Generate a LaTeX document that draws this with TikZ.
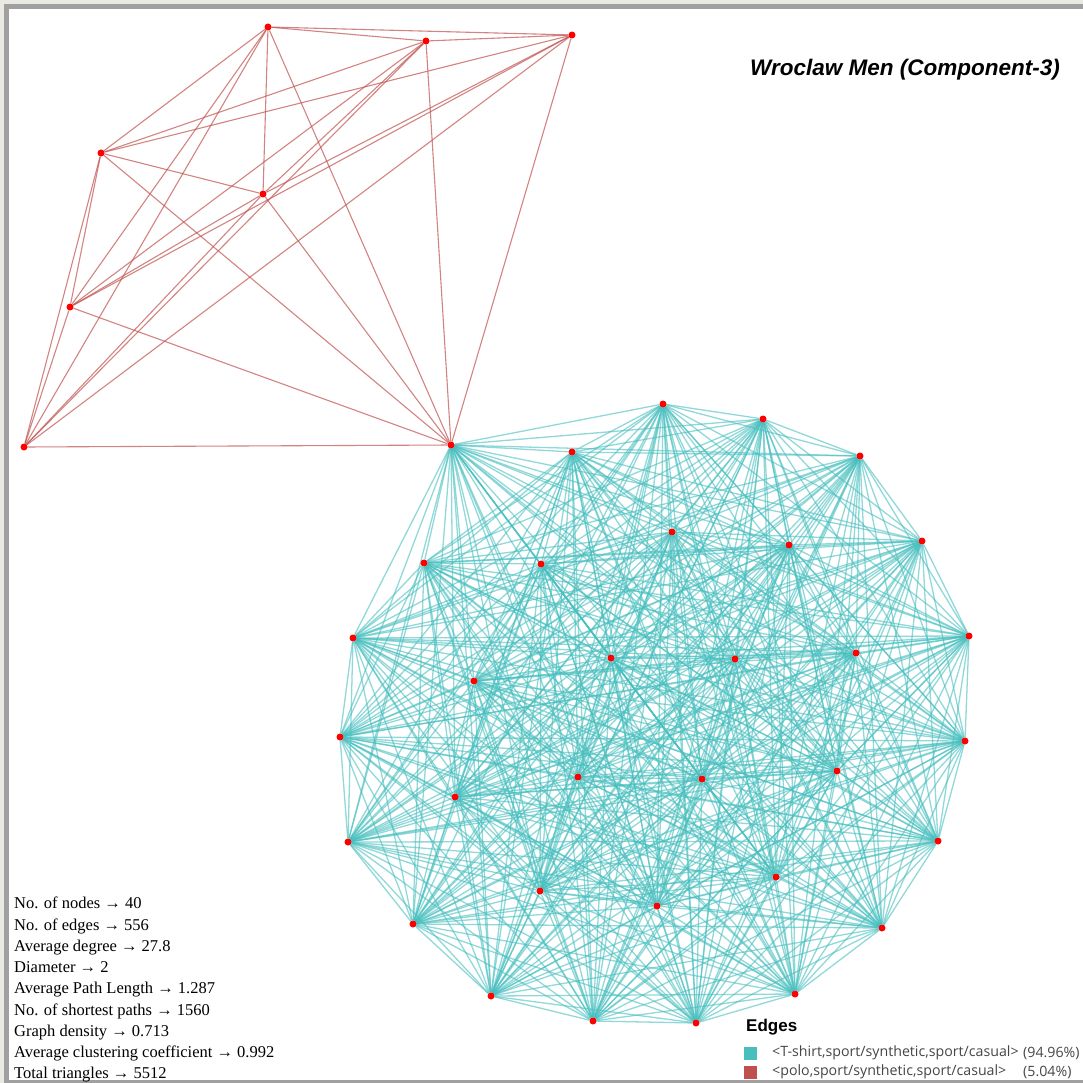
\documentclass[tikz,border=0pt]{standalone}
\usepackage{fontspec}
\setmainfont{Liberation Serif}
\newfontfamily\arialf{Liberation Sans}
\newfontfamily\legf{Open Sans}
\definecolor{tealE}{RGB}{72,191,191}
\definecolor{redE}{RGB}{192,80,77}
\definecolor{frameg}{RGB}{160,160,160}
\definecolor{beigebg}{RGB}{235,233,228}
\definecolor{legtext}{RGB}{70,70,70}
\pgfdeclarelayer{background}
\pgfsetlayers{background,main}
\begin{document}
\begin{tikzpicture}[x=1pt,y=-1pt,
  dot/.style={circle,fill=red,inner sep=0pt,minimum size=7pt},
  cedge/.style={draw=tealE,line width=1.3pt,draw opacity=0.6},
  redge/.style={draw=redE,line width=1.1pt,draw opacity=0.7},
  stat/.style={font=\fontsize{16.5}{21.25}\selectfont,align=left,inner sep=0pt,anchor=north west},
  legitem/.style={font=\legf\fontsize{14.2}{16}\selectfont,text=legtext,inner sep=0pt},
  legsq/.style={minimum size=13pt,inner sep=0pt}]
\useasboundingbox (0,0) rectangle (1083,1083);
% red component nodes
\node[dot] (h) at (451,445) {};
\node[dot] (ra) at (268,27) {};
\node[dot] (rb) at (426,41) {};
\node[dot] (rc) at (572,35) {};
\node[dot] (rd) at (101,153) {};
\node[dot] (re) at (263,194) {};
\node[dot] (rf) at (70,307) {};
\node[dot] (rg) at (24,447) {};
% cyan component, outer ring
\node[dot] (o1) at (663,404) {};
\node[dot] (o2) at (763,419) {};
\node[dot] (o3) at (860,456) {};
\node[dot] (o4) at (922,541) {};
\node[dot] (o5) at (969,636) {};
\node[dot] (o6) at (965,741) {};
\node[dot] (o7) at (938,841) {};
\node[dot] (o8) at (882,928) {};
\node[dot] (o9) at (795,994) {};
\node[dot] (o10) at (696,1023) {};
\node[dot] (o11) at (593,1021) {};
\node[dot] (o12) at (491,996) {};
\node[dot] (o13) at (413,924) {};
\node[dot] (o14) at (348,842) {};
\node[dot] (o15) at (340,737) {};
\node[dot] (o16) at (353,638) {};
\node[dot] (o17) at (424,563) {};
\node[dot] (o18) at (572,452) {};
% inner
\node[dot] (n1) at (541,564) {};
\node[dot] (n2) at (672,532) {};
\node[dot] (n3) at (789,545) {};
\node[dot] (n4) at (611,658) {};
\node[dot] (n5) at (735,659) {};
\node[dot] (n6) at (856,653) {};
\node[dot] (n7) at (474,681) {};
\node[dot] (n8) at (578,777) {};
\node[dot] (n9) at (702,779) {};
\node[dot] (n10) at (837,771) {};
\node[dot] (n11) at (455,797) {};
\node[dot] (n12) at (540,891) {};
\node[dot] (n13) at (657,906) {};
\node[dot] (n14) at (776,877) {};
\begin{pgfonlayer}{background}
  \fill[beigebg] (0,0) rectangle (1083,1083);
  \fill[frameg] (4,4) rectangle (1083,1083);
  \fill[white] (9,9) rectangle (1083,1080);
  \foreach \a [count=\i] in {h,ra,rb,rc,rd,re,rf,rg} {
    \foreach \b [count=\j] in {h,ra,rb,rc,rd,re,rf,rg} {
      \ifnum\j>\i \draw[redge] (\a) -- (\b); \fi
    }
  }
  \foreach \a [count=\i] in {h,o1,o2,o3,o4,o5,o6,o7,o8,o9,o10,o11,o12,o13,o14,o15,o16,o17,o18,n1,n2,n3,n4,n5,n6,n7,n8,n9,n10,n11,n12,n13,n14} {
    \foreach \b [count=\j] in {h,o1,o2,o3,o4,o5,o6,o7,o8,o9,o10,o11,o12,o13,o14,o15,o16,o17,o18,n1,n2,n3,n4,n5,n6,n7,n8,n9,n10,n11,n12,n13,n14} {
      \ifnum\j>\i \draw[cedge] (\a) -- (\b); \fi
    }
  }
\end{pgfonlayer}
% title
\node[anchor=east,inner sep=0pt,font=\arialf\bfseries\itshape\fontsize{22.5}{26}\selectfont] (title) at (1060,70) {Wroclaw Men (Component-3)};
% stats
\node[stat] (stats) at (14,897) {No. of nodes → 40\\
No. of edges → 556\\
Average degree → 27.8\\
Diameter → 2\\
Average Path Length → 1.287\\
No. of shortest paths → 1560\\
Graph density → 0.713\\
Average clustering coefficient → 0.992\\
Total triangles → 5512};
% legend
\node[anchor=west,inner sep=0pt,font=\arialf\bfseries\fontsize{17}{19}\selectfont] (legtitle) at (746,1027) {Edges};
\node[legsq,fill=tealE] (sq1) at (750.5,1053) {};
\node[legsq,fill=redE] (sq2) at (750.5,1072) {};
\node[legitem,anchor=west] (l1) at (772,1053) {<T-shirt,sport/synthetic,sport/casual>};
\node[legitem,anchor=west] (p1) at (1023,1053) {(94.96\%)};
\node[legitem,anchor=west] (l2) at (772,1072) {<polo,sport/synthetic,sport/casual>};
\node[legitem,anchor=west] (p2) at (1023,1072) {(5.04\%)};
\end{tikzpicture}
\end{document}
